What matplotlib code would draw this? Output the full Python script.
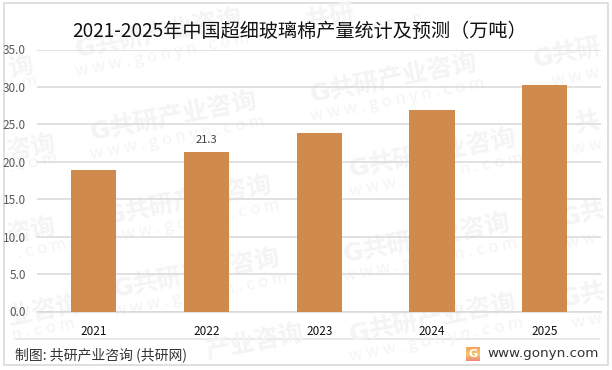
import numpy as np
import matplotlib
matplotlib.use("Agg")
import matplotlib.pyplot as plt
from matplotlib.colors import LinearSegmentedColormap
from matplotlib.patches import Rectangle

plt.rcParams["font.family"] = ["Noto Sans CJK SC", "DejaVu Sans"]

# data
years = ["2021", "2022", "2023", "2024", "2025"]
output = [18.9, 21.3, 23.85, 26.9, 30.25]
labelled = {"2022": "21.3"}
y_ticks = [0, 5, 10, 15, 20, 25, 30, 35]

# watermarks: x, y in picture pixels, and what stays visible inside the frame
wm_full = [(75, 50), (90, 133), (105, 217), (113, 290), (310, 95), (349, 170), (343, 255), (349, 335)]
wm_cjk = [(8, 70, "询"), (6, 153, "咨询"), (6, 236, "咨询"), (8, 318, "业咨询"), (206, 352, "产业咨询"),
          (552, 56, "共研"), (575, 125, "共"), (580, 214, "共"), (580, 296, "共"), (306, 22, "共研")]
wm_g = [(533, 60), (560, 219), (560, 300)]
wm_site = [(22, 84, "m"), (8, 168, ". c o m"), (17, 254, ". c o m"), (12, 336, "n . c o m"),
           (552, 82, "w w w"), (572, 150, "w w"), (566, 244, "w w"), (572, 324, "w w"),
           (360, 30, "g o n y n")]

WM_COLOR = "#f4f4f4"
W, H = 612, 370
fig = plt.figure(figsize=(W / 100, H / 100), dpi=100, facecolor="white")

# background layer in pixel coordinates
bg = fig.add_axes([0, 0, 1, 1], zorder=0)
bg.set_xlim(0, W)
bg.set_ylim(H, 0)
bg.axis("off")


def wm_text(x, y, s, size, weight="bold", family=None):
    bg.text(x, y, s, fontsize=size, fontweight=weight, color=WM_COLOR, rotation=11,
            rotation_mode="anchor", va="center", ha="left", family=family or plt.rcParams["font.family"])


for x, y in wm_full:
    wm_text(x, y, "G", 18, family=["DejaVu Sans"])
    wm_text(x + 20, y - 4, "共研产业咨询", 18)
    wm_text(x, y + 22, "w w w . g o n y n . c o m", 12, weight="normal")
for x, y, s in wm_cjk:
    wm_text(x, y, s, 18)
for x, y in wm_g:
    wm_text(x, y, "G", 18, family=["DejaVu Sans"])
for x, y, s in wm_site:
    wm_text(x, y, s, 12, weight="normal")

# outer frame and footer line
bg.add_patch(Rectangle((3.5, 2.5), 604.5, 362.5, fill=False, edgecolor="#d9d9d9", linewidth=1.2))
bg.plot([15, 599], [338.5, 338.5], color="#e4e4e4", linewidth=1.2)

# chart
ax = fig.add_axes([37.2 / W, 1 - 311.5 / H, 564 / W, 262 / H], zorder=1)
ax.patch.set_alpha(0)
ax.bar(years, output, width=0.4, color="#d08b4c", zorder=3)
ax.set_xlim(-0.5, 4.5)
ax.set_ylim(0, 35)
ax.set_yticks(y_ticks, [f"{v:.1f}" for v in y_ticks])
ax.yaxis.grid(True, color="#d9d9d9", linewidth=1.1)
ax.set_axisbelow(True)
for s in ["top", "right", "left"]:
    ax.spines[s].set_visible(False)
ax.spines["bottom"].set_color("#d9d9d9")
ax.spines["bottom"].set_linewidth(1.1)
ax.tick_params(axis="both", length=0)
ax.tick_params(axis="y", labelsize=8.5, labelcolor="#595959", pad=8)
ax.tick_params(axis="x", labelsize=8.5, labelcolor="#111111", pad=10)

for year, value in zip(years, output):
    if year in labelled:
        ax.annotate(labelled[year], (year, value), xytext=(0, 5), textcoords="offset points",
                    ha="center", va="bottom", fontsize=8, color="#404040")

# title, source, site
bg.text(299.5, 31, "2021-2025年中国超细玻璃棉产量统计及预测（万吨）", fontsize=13.75,
        color="#111111", ha="center", va="center")
bg.text(15, 355, "制图: 共研产业咨询 (共研网)", fontsize=10, color="#333333",
        fontweight="medium", ha="left", va="center")
bg.text(599, 353, "www.gonyn.com", fontsize=9.7, color="#333333", ha="right", va="center",
        family=["DejaVu Sans"])

# small logo with gradient
logo = fig.add_axes([466 / W, 1 - 361 / H, 14 / W, 14 / H], zorder=2)
logo.imshow(np.linspace(0, 1, 32).reshape(-1, 1),
            cmap=LinearSegmentedColormap.from_list("logo", ["#f5a25d", "#f7c66b", "#ee8a7a"]), aspect="auto")
logo.text(0.5, 0.5, "G", transform=logo.transAxes, color="white", fontsize=8, fontweight="bold",
          ha="center", va="center", family=["DejaVu Sans"])
logo.axis("off")

fig.savefig("out.png", dpi=100)
plt.close(fig)
